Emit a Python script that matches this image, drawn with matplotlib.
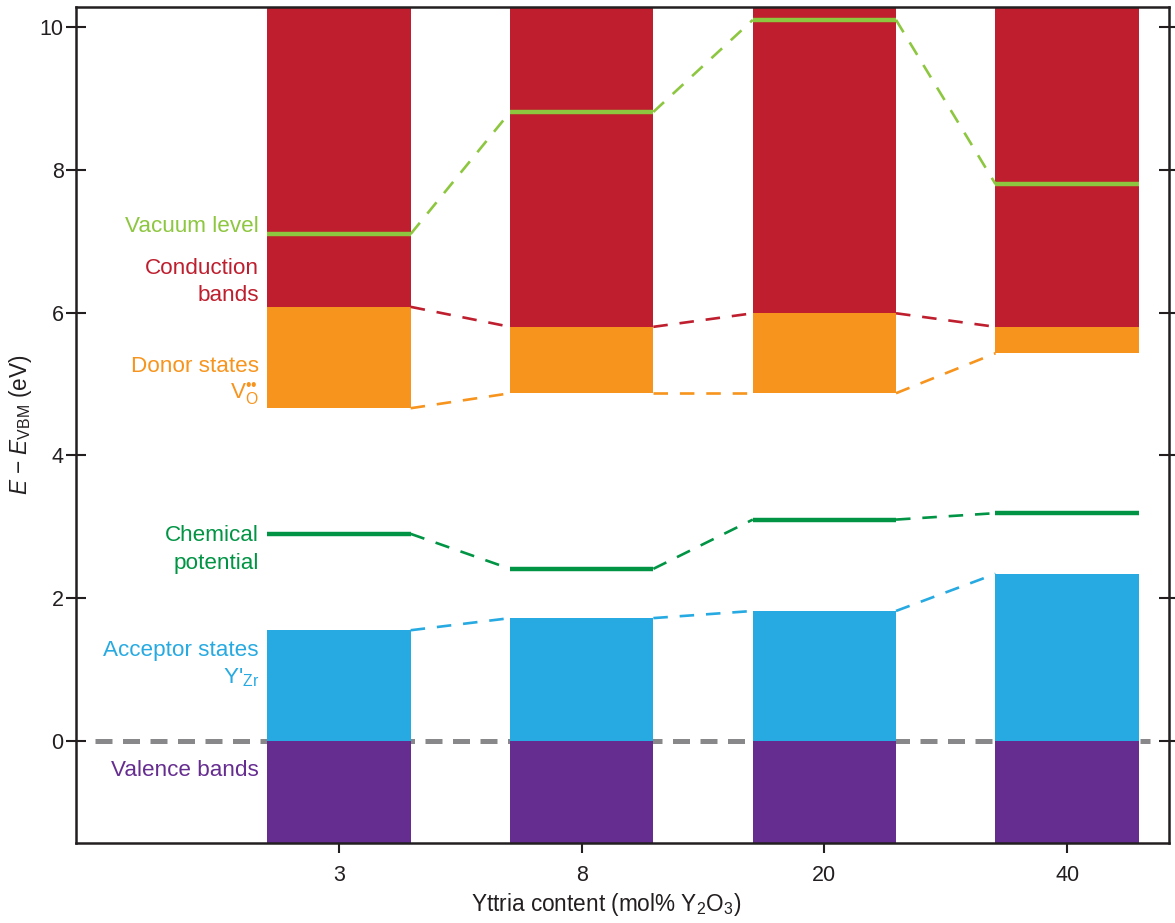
import matplotlib.pyplot as plt
import numpy as np

plt.rcParams['font.family'] = ['Liberation Sans', 'DejaVu Sans']
plt.rcParams['mathtext.fontset'] = 'custom'
plt.rcParams['mathtext.rm'] = 'Liberation Sans'
plt.rcParams['mathtext.it'] = 'Liberation Sans:italic'

# yttria content (mol% Y2O3) and energy levels relative to VBM (eV)
yttria = ['3', '8', '20', '40']
acceptor_top = [1.55, 1.72, 1.82, 2.34]
donor_bottom = [4.66, 4.87, 4.87, 5.43]
cbm = [6.08, 5.80, 5.99, 5.80]
vacuum = [7.10, 8.81, 10.10, 7.80]
chem_pot = [2.90, 2.41, 3.10, 3.19]

RED = '#be1e2d'
ORANGE = '#f7941d'
LGREEN = '#8dc63f'
DGREEN = '#009444'
BLUE = '#27aae1'
PURPLE = '#662d91'
GRAY = '#88888a'
INK = '#231f20'

ymin, ymax = -1.43, 10.28
x = np.arange(len(yttria))
w = 0.59

fig = plt.figure(figsize=(11.75, 9.23), dpi=100)
ax = fig.add_axes([0.0647, 0.0867, 0.9302, 0.9057])

# valence bands, acceptor, donor and conduction blocks
ax.bar(x, np.zeros(len(x)) - ymin, bottom=ymin, width=w, color=PURPLE, zorder=2)
ax.bar(x, acceptor_top, bottom=0, width=w, color=BLUE, zorder=2)
ax.bar(x, np.array(cbm) - np.array(donor_bottom), bottom=donor_bottom, width=w,
       color=ORANGE, zorder=2)
ax.bar(x, ymax + 1 - np.array(cbm), bottom=cbm, width=w, color=RED, zorder=2)

# VBM reference
ax.axhline(0, xmin=0.017, xmax=0.983, color=GRAY, lw=3.6, dashes=(3.4, 2.1), zorder=1)

# level markers
ax.hlines(vacuum, x - w / 2, x + w / 2, color=LGREEN, lw=3.2, zorder=3)
ax.hlines(chem_pot, x - w / 2, x + w / 2, color=DGREEN, lw=3.2, zorder=3)

# dashed connectors between neighbouring bars
for series, col in [(vacuum, LGREEN), (cbm, RED), (donor_bottom, ORANGE),
                    (chem_pot, DGREEN), (acceptor_top, BLUE)]:
    for i in range(len(x) - 1):
        ax.plot([x[i] + w / 2, x[i + 1] - w / 2], [series[i], series[i + 1]],
                color=col, lw=1.9, dashes=(5.5, 4.5), zorder=3)

# level names on the left
lx = -0.33
fs = 16.2
ax.text(lx, 7.20, 'Vacuum level', color=LGREEN, ha='right', va='center', fontsize=fs)
ax.text(lx, 6.43, 'Conduction\nbands', color=RED, ha='right', va='center',
        fontsize=fs, linespacing=1.4)
ax.text(lx, 5.25, 'Donor states', color=ORANGE, ha='right', va='center', fontsize=fs)
ax.text(lx, 4.86, r'V$_{\mathrm{O}}^{\mathrm{••}}$', color=ORANGE, ha='right',
        va='center', fontsize=fs)
ax.text(lx, 2.68, 'Chemical\npotential', color=DGREEN, ha='right', va='center',
        fontsize=fs, linespacing=1.4)
ax.text(lx, 1.27, 'Acceptor states', color=BLUE, ha='right', va='center', fontsize=fs)
ax.text(lx, 0.88, r"Y$'_{\mathrm{Zr}}$", color=BLUE, ha='right', va='center', fontsize=fs)
ax.text(lx, -0.41, 'Valence bands', color=PURPLE, ha='right', va='center', fontsize=fs)

ax.set_xlim(-1.084, 3.42)
ax.set_ylim(ymin, ymax)
ax.set_xticks(x)
ax.set_xticklabels(yttria)
ax.set_yticks([0, 2, 4, 6, 8, 10])
ax.tick_params(axis='both', direction='inout', length=14, width=1.5, colors=INK,
               labelsize=15.5, labelcolor=INK)
ax.tick_params(axis='y', right=True, labelright=False, pad=2)
ax.tick_params(axis='x', pad=9)
for sp in ax.spines.values():
    sp.set_linewidth(1.8)
    sp.set_color(INK)
    sp.set_zorder(4)

ax.set_xlabel('Yttria content (mol% Y$_2$O$_3$)', fontsize=16.3, color=INK)
ax.xaxis.set_label_coords(0.485, -0.058)
ax.set_ylabel(r'$E$ − $E_{\mathrm{VBM}}$ (eV)', fontsize=16.3, color=INK, labelpad=4)

fig.savefig('out.png', dpi=100)
